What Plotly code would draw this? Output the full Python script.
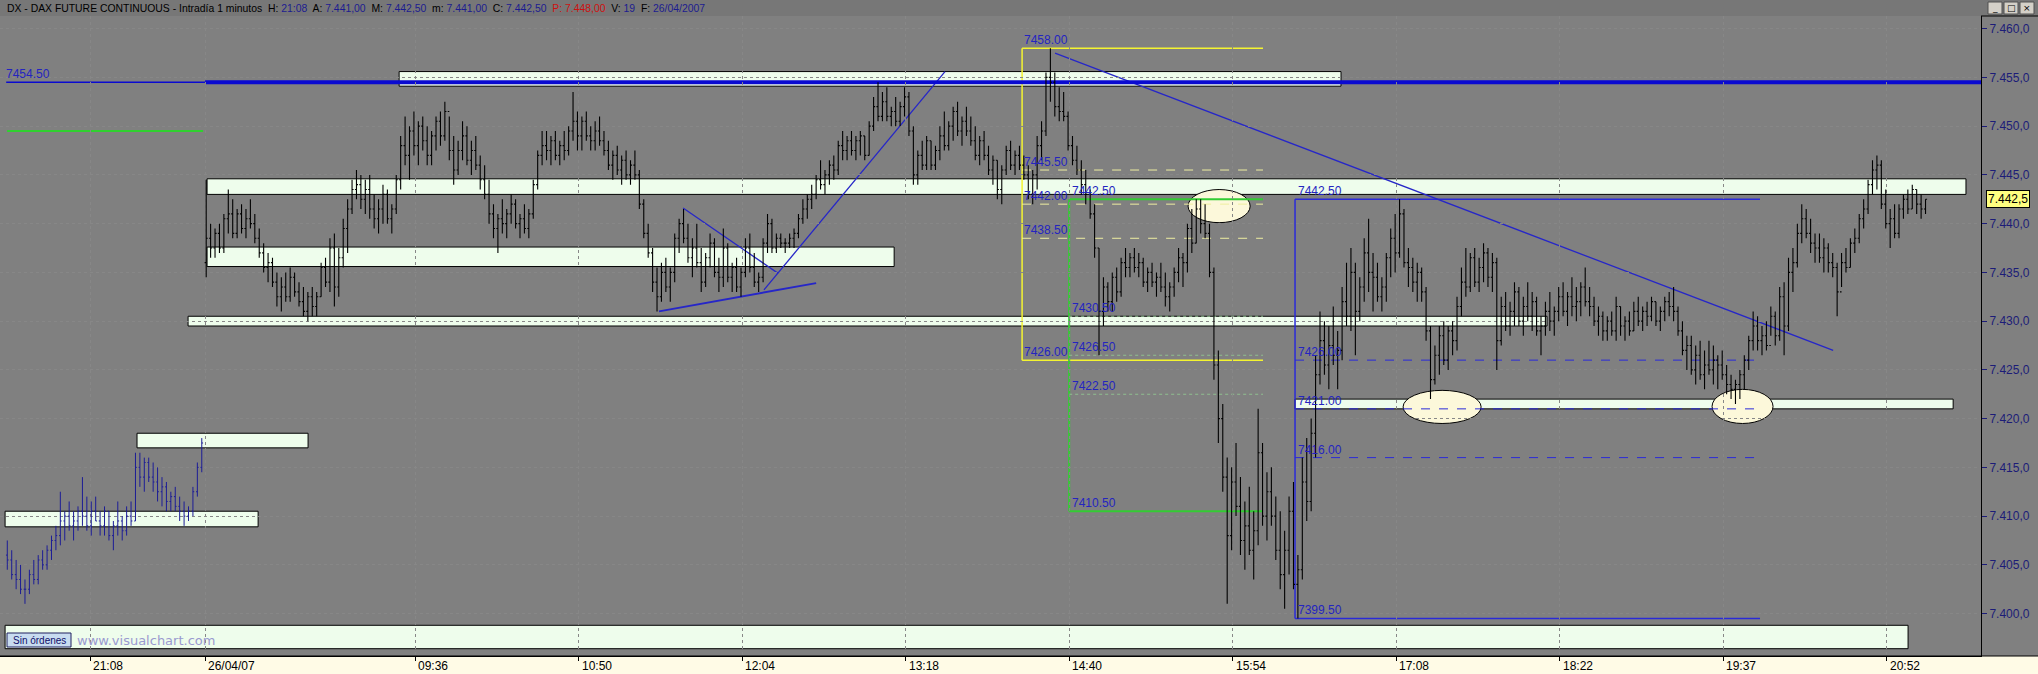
import plotly.graph_objects as go

# ---------------- DATA ----------------
# Previous session (25/04/07), 2-minute bars, last ~90 minutes
prev_high = [7407.5,7406.5,7405.5,7405.0,7403.5,7404.5,7405.5,7406.0,7406.5,7407.0,
             7408.0,7409.0,7412.5,7410.5,7411.5,7410.5,7411.0,7414.0,7412.0,7411.5,
             7412.0,7410.5,7411.0,7410.5,7409.5,7411.5,7410.0,7411.0,7411.5,7416.5,
             7416.5,7416.0,7416.0,7415.5,7415.0,7414.0,7413.5,7412.5,7413.0,7412.0,
             7411.5,7411.0,7413.0,7415.5,7418.0]
prev_low = [7404.5,7403.5,7402.5,7402.0,7401.0,7402.0,7403.0,7403.0,7404.5,7404.5,
            7405.5,7406.5,7407.0,7407.5,7408.5,7407.5,7408.5,7409.0,7408.5,7408.0,
            7409.5,7408.0,7408.0,7407.5,7406.5,7408.0,7407.5,7408.0,7409.0,7409.5,
            7413.0,7412.5,7413.5,7412.5,7411.5,7411.0,7410.5,7410.5,7410.5,7409.5,
            7409.0,7409.5,7410.0,7412.0,7414.5]
prev_close = [7405.5,7404.0,7403.5,7402.5,7402.5,7404.0,7403.5,7405.5,7405.0,7406.5,
              7407.5,7408.0,7409.5,7410.0,7409.0,7409.5,7410.5,7410.0,7409.0,7410.5,
              7409.5,7409.0,7410.5,7408.0,7409.0,7409.5,7408.5,7410.0,7409.5,7415.0,
              7414.0,7415.5,7414.0,7413.5,7412.5,7413.0,7411.5,7412.0,7411.0,7410.5,
              7410.0,7410.5,7412.5,7415.0,7417.5]
prev_first_open = 7406.0

# Session 26/04/07, 2-minute bars from 08:00
high = [7444.5,7440.0,7439.5,7440.0,7441.0,7443.5,7442.5,7441.5,7442.0,7441.5,
        7442.5,7441.0,7439.5,7438.0,7437.0,7436.5,7435.0,7434.5,7435.0,7435.5,
        7435.0,7434.0,7433.5,7433.0,7433.5,7433.0,7436.0,7436.5,7438.5,7439.0,
        7437.5,7440.5,7442.5,7444.5,7445.5,7445.0,7444.5,7445.0,7443.0,7442.5,
        7444.0,7443.5,7442.0,7445.0,7449.0,7451.0,7450.0,7451.5,7450.5,7451.0,
        7450.0,7449.5,7451.0,7451.5,7452.5,7451.0,7449.0,7448.5,7450.5,7450.0,
        7448.5,7449.0,7447.0,7446.0,7444.5,7442.0,7441.0,7442.5,7441.5,7443.0,
        7442.5,7441.0,7442.0,7441.5,7444.5,7447.5,7449.5,7449.5,7449.0,7449.5,
        7448.5,7449.5,7450.0,7453.5,7451.5,7451.0,7451.5,7450.0,7450.5,7451.0,
        7449.5,7448.5,7447.5,7448.0,7447.0,7447.5,7446.5,7447.5,7445.5,7442.5,
        7440.0,7437.5,7435.5,7436.0,7436.5,7435.5,7439.0,7440.5,7441.5,7440.0,
        7438.5,7440.0,7437.5,7437.0,7439.0,7438.5,7436.5,7439.5,7438.0,7436.0,
        7436.5,7435.5,7438.5,7439.0,7437.0,7435.0,7438.5,7441.0,7440.5,7439.0,
        7439.0,7438.5,7439.0,7439.5,7441.0,7442.5,7443.0,7444.0,7445.0,7446.5,
        7445.5,7446.5,7447.0,7448.5,7449.5,7449.0,7449.5,7449.0,7449.5,7449.0,
        7450.5,7453.0,7454.5,7453.5,7454.0,7452.0,7453.0,7452.5,7454.0,7453.5,
        7450.0,7447.5,7448.5,7449.0,7448.5,7448.0,7450.0,7451.5,7450.5,7452.0,
        7452.5,7451.0,7452.0,7451.0,7450.0,7449.0,7449.5,7448.0,7447.0,7446.5,
        7446.0,7448.0,7448.5,7447.5,7448.0,7447.0,7446.0,7445.5,7449.0,7450.5,
        7455.5,7458.0,7455.5,7454.0,7453.5,7451.5,7449.0,7448.0,7446.5,7445.5,
        7443.5,7442.0,7437.5,7434.5,7434.0,7435.0,7435.5,7436.5,7437.5,7437.0,
        7437.5,7437.0,7436.5,7435.5,7436.0,7435.0,7436.0,7435.0,7434.0,7435.5,
        7437.5,7437.0,7440.0,7441.5,7442.5,7442.5,7442.0,7440.0,7435.5,7427.0,
        7421.5,7416.0,7415.0,7417.5,7414.0,7411.5,7413.0,7410.5,7421.0,7417.5,
        7414.5,7415.0,7412.0,7410.5,7408.5,7412.0,7413.5,7406.0,7416.0,7418.0,
        7420.0,7426.5,7431.0,7430.0,7429.5,7431.5,7429.0,7433.5,7436.0,7437.5,
        7436.0,7434.5,7438.5,7440.5,7437.0,7436.0,7434.5,7437.0,7439.5,7441.0,
        7442.5,7441.5,7437.5,7436.5,7436.0,7435.5,7433.5,7429.5,7427.5,7429.5,
        7430.0,7429.5,7430.0,7432.5,7435.5,7437.5,7437.0,7437.5,7436.5,7438.0,
        7437.5,7437.0,7436.5,7432.5,7433.0,7432.0,7434.0,7433.5,7432.5,7434.0,
        7433.0,7432.5,7430.5,7432.0,7433.0,7431.5,7433.5,7434.0,7433.0,7434.5,
        7433.5,7434.0,7435.5,7433.5,7432.5,7431.5,7431.0,7430.5,7431.0,7432.5,
        7431.5,7430.5,7431.0,7432.0,7432.5,7431.5,7432.0,7432.5,7432.0,7431.5,
        7432.5,7433.0,7433.5,7431.5,7430.0,7428.5,7428.5,7427.5,7428.0,7427.0,
        7428.0,7427.5,7426.5,7427.0,7425.5,7424.5,7424.0,7425.0,7426.5,7428.5,
        7431.0,7430.5,7429.5,7430.0,7431.5,7431.0,7433.5,7434.0,7436.5,7437.5,
        7440.0,7442.0,7441.5,7440.5,7439.0,7439.0,7438.5,7438.0,7437.0,7436.0,
        7437.0,7437.5,7438.5,7439.5,7441.0,7442.5,7444.5,7446.5,7447.0,7446.5,
        7443.5,7441.5,7442.0,7442.0,7443.0,7443.5,7444.0,7443.5,7443.0,7442.5]
low = [7434.5,7436.5,7436.5,7437.0,7437.0,7439.0,7438.5,7438.5,7439.0,7438.5,
       7439.5,7438.0,7436.5,7435.0,7434.0,7433.5,7431.5,7431.0,7432.0,7432.0,
       7432.5,7431.5,7430.5,7430.0,7430.5,7430.5,7432.5,7433.5,7433.0,7431.5,
       7432.5,7435.5,7437.0,7441.0,7442.5,7441.5,7441.0,7440.5,7439.5,7439.0,
       7440.0,7440.0,7439.0,7441.0,7443.5,7446.0,7444.5,7447.0,7446.0,7447.5,
       7446.0,7446.0,7447.5,7448.0,7448.5,7446.5,7444.0,7445.0,7446.5,7446.0,
       7445.0,7445.5,7443.5,7442.5,7440.0,7438.5,7437.0,7439.0,7438.5,7440.0,
       7439.5,7438.5,7439.0,7438.5,7440.5,7443.5,7446.0,7446.5,7446.0,7446.5,
       7446.0,7446.5,7447.0,7448.5,7447.5,7447.5,7448.5,7447.5,7447.5,7448.0,
       7447.0,7445.5,7444.5,7445.0,7444.0,7444.5,7444.0,7444.5,7441.5,7438.5,
       7436.5,7433.0,7431.0,7432.0,7433.0,7432.0,7434.0,7437.0,7438.0,7436.0,
       7434.5,7435.5,7433.0,7433.5,7435.5,7434.5,7433.0,7433.5,7434.0,7433.0,
       7433.0,7432.5,7434.5,7435.0,7433.5,7433.0,7434.0,7437.0,7437.0,7437.0,
       7437.5,7437.0,7437.5,7437.5,7438.5,7440.0,7440.5,7441.5,7442.5,7443.5,
       7443.0,7444.0,7444.5,7445.0,7446.5,7446.5,7447.0,7446.5,7447.0,7446.5,
       7447.0,7449.5,7450.5,7450.5,7450.5,7450.0,7450.0,7450.0,7451.0,7449.0,
       7444.0,7444.0,7445.5,7445.5,7445.5,7445.5,7446.5,7447.5,7447.5,7448.5,
       7449.0,7448.0,7449.0,7448.0,7446.5,7446.0,7446.5,7445.0,7444.0,7442.5,
       7442.0,7445.0,7445.5,7445.0,7445.5,7444.5,7442.5,7442.0,7443.5,7446.5,
       7449.0,7452.5,7451.0,7450.5,7450.5,7447.5,7446.0,7445.0,7443.0,7442.0,
       7440.5,7436.5,7426.5,7429.5,7431.0,7431.0,7432.0,7432.5,7434.5,7434.5,
       7435.0,7434.5,7433.5,7433.0,7433.5,7432.5,7433.0,7431.5,7431.0,7432.5,
       7434.0,7433.5,7435.0,7437.0,7438.0,7439.0,7438.5,7434.5,7424.0,7417.5,
       7412.5,7401.0,7406.5,7410.0,7406.0,7404.5,7406.0,7403.5,7407.0,7409.0,
       7407.5,7409.0,7405.5,7402.5,7400.5,7404.0,7402.5,7399.5,7403.5,7409.5,
       7410.5,7416.0,7423.5,7424.5,7423.0,7425.5,7423.0,7426.0,7429.5,7429.0,
       7426.5,7430.0,7432.0,7433.0,7431.0,7432.0,7431.0,7432.0,7434.5,7435.0,
       7436.5,7435.5,7433.5,7433.0,7432.0,7432.0,7428.0,7422.0,7423.5,7424.5,
       7425.5,7425.0,7426.5,7427.0,7430.5,7432.5,7433.0,7433.5,7433.0,7434.0,
       7433.5,7433.0,7425.0,7427.5,7429.0,7428.5,7429.5,7429.5,7428.5,7430.0,
       7429.0,7428.5,7426.5,7428.5,7429.0,7428.5,7430.0,7430.5,7429.5,7430.5,
       7430.0,7430.5,7431.5,7430.5,7429.5,7428.5,7428.0,7428.0,7428.5,7428.0,
       7428.5,7428.0,7428.5,7429.0,7429.5,7429.0,7429.5,7430.0,7429.5,7429.0,
       7430.0,7430.5,7430.0,7428.5,7426.5,7425.0,7424.5,7423.5,7424.0,7423.0,
       7424.5,7423.5,7423.0,7424.0,7422.5,7422.0,7421.5,7422.0,7423.0,7425.0,
       7427.0,7427.0,7426.5,7427.0,7428.5,7427.5,7428.0,7426.5,7429.0,7433.0,
       7435.5,7438.0,7438.5,7437.0,7436.0,7436.0,7435.0,7435.0,7434.5,7430.5,
       7433.5,7435.0,7435.5,7437.0,7438.0,7439.5,7441.0,7443.0,7443.5,7441.5,
       7439.5,7437.5,7438.5,7438.5,7440.5,7441.0,7441.5,7441.0,7440.5,7441.0]
close = [7438.5,7437.5,7439.0,7437.5,7440.5,7441.0,7439.0,7441.0,7439.5,7440.5,
         7440.0,7438.5,7437.0,7435.5,7436.0,7434.0,7432.5,7433.5,7432.5,7434.5,
         7433.0,7432.0,7431.0,7432.5,7431.5,7432.5,7435.5,7434.0,7437.5,7433.5,
         7436.5,7439.5,7441.5,7443.5,7444.0,7442.5,7443.5,7441.5,7440.5,7441.5,
         7443.0,7440.5,7441.5,7444.5,7448.0,7447.0,7449.5,7448.0,7450.0,7448.5,
         7447.0,7449.0,7450.5,7449.0,7451.5,7447.5,7445.5,7447.5,7449.0,7446.5,
         7447.5,7446.0,7444.5,7443.0,7441.0,7439.5,7440.5,7440.0,7441.0,7442.0,
         7440.0,7440.5,7439.5,7441.0,7444.0,7447.0,7448.0,7447.5,7448.5,7447.0,
         7448.0,7447.5,7449.5,7450.5,7449.0,7450.5,7449.0,7448.5,7449.5,7448.5,
         7447.5,7446.0,7447.0,7445.5,7446.5,7445.0,7446.0,7445.0,7442.0,7439.0,
         7437.0,7434.0,7432.5,7435.0,7433.5,7435.0,7438.5,7440.0,7438.5,7436.5,
         7437.5,7436.0,7434.0,7436.5,7438.0,7435.0,7434.5,7437.5,7434.5,7435.5,
         7433.5,7435.0,7437.5,7435.5,7434.0,7434.5,7438.0,7440.0,7437.5,7438.5,
         7438.0,7438.0,7438.5,7439.0,7440.5,7441.5,7442.5,7443.0,7444.5,7444.0,
         7445.0,7446.0,7445.5,7448.0,7447.5,7448.5,7447.5,7448.5,7449.0,7447.0,
         7450.0,7452.0,7451.0,7452.5,7451.0,7451.5,7450.5,7452.0,7453.0,7449.5,
         7445.0,7447.0,7446.0,7448.5,7446.0,7447.5,7449.0,7448.0,7450.0,7451.5,
         7449.5,7450.5,7449.5,7448.5,7447.0,7448.5,7447.0,7445.5,7446.5,7443.5,
         7445.5,7447.5,7446.0,7447.0,7446.0,7445.0,7443.0,7445.0,7448.0,7449.5,
         7455.0,7454.5,7452.0,7451.5,7451.0,7448.0,7446.5,7445.5,7444.0,7443.0,
         7441.0,7437.5,7431.0,7433.5,7432.0,7434.5,7433.0,7436.0,7435.5,7436.5,
         7435.5,7436.0,7434.0,7435.0,7434.0,7434.5,7433.5,7432.5,7433.5,7435.0,
         7436.5,7436.0,7439.5,7438.0,7441.5,7440.0,7439.0,7435.0,7425.5,7420.0,
         7414.0,7408.0,7413.5,7411.0,7407.5,7409.0,7406.5,7408.5,7416.5,7410.0,
         7412.5,7410.0,7406.5,7404.0,7406.5,7410.5,7403.0,7404.5,7413.5,7411.5,
         7418.5,7424.5,7428.0,7425.5,7427.5,7426.5,7427.0,7432.0,7430.5,7435.0,
         7431.0,7433.5,7437.0,7435.0,7434.5,7432.5,7433.5,7436.5,7438.5,7437.0,
         7441.0,7436.0,7435.5,7434.0,7435.0,7433.0,7429.0,7424.0,7426.5,7428.5,
         7426.0,7429.0,7428.0,7431.5,7434.0,7433.5,7436.5,7434.0,7435.5,7437.0,
         7434.5,7436.0,7428.0,7431.5,7429.5,7431.0,7433.0,7430.0,7431.5,7430.5,
         7432.0,7429.0,7429.5,7431.0,7430.0,7431.0,7432.5,7431.0,7432.5,7431.5,
         7432.0,7433.5,7432.0,7431.5,7430.0,7430.5,7429.0,7430.0,7429.0,7431.5,
         7429.5,7430.0,7429.0,7431.0,7430.0,7431.0,7430.5,7432.0,7430.0,7431.0,
         7432.0,7431.5,7431.0,7429.0,7427.0,7427.5,7425.0,7426.5,7424.5,7425.5,
         7425.0,7426.0,7425.5,7424.5,7423.5,7423.0,7423.5,7424.5,7426.0,7428.0,
         7429.5,7428.0,7428.5,7427.5,7430.5,7428.5,7432.5,7429.5,7435.0,7436.0,
         7439.0,7440.5,7439.0,7438.0,7437.5,7436.5,7437.5,7436.0,7435.5,7433.0,
         7436.0,7435.5,7438.0,7438.5,7440.5,7441.5,7444.0,7445.5,7446.0,7442.0,
         7440.0,7440.5,7439.0,7441.5,7442.5,7441.5,7443.5,7442.0,7441.5,7442.5]
first_open = 7436.0

# Axis tick labels
time_tick_pos = [-52, 0, 95, 169, 243, 317, 391, 465, 539, 613, 687, 761]   # minute index (0 = 08:00 of 26/04/07)
time_tick_txt = ["21:08", "26/04/07", "09:36", "10:50", "12:04", "13:18",
                 "14:40", "15:54", "17:08", "18:22", "19:37", "20:52"]
price_ticks = [7400, 7405, 7410, 7415, 7420, 7425, 7430, 7435, 7440, 7445, 7450, 7455, 7460]
last_price = 7442.5

# Drawn support/resistance bands: (x0, x1, y_low, y_high)
bands = [(-90.5, 770.6, 7396.4, 7398.8),
         (-90.5, 24.0, 7408.9, 7410.5),
         (-30.8, 46.6, 7417.0, 7418.5),
         (0.9, 796.8, 7443.0, 7444.6),
         (0.9, 311.8, 7435.6, 7437.6),
         (-7.7, 607.2, 7429.5, 7430.5),
         (493.2, 791.0, 7421.0, 7422.0),
         (87.8, 514.0, 7454.1, 7455.6)]
ellipses = [(444.8, 472.9, 7440.1, 7443.5),
            (542.1, 577.4, 7419.5, 7422.9),
            (681.9, 709.5, 7419.5, 7423.0)]
trendlines = [(384.6, 7457.5, 736.7, 7427.0, 1.3),
              (252.9, 7433.2, 334.8, 7455.6, 1.3),
              (216.3, 7441.6, 259.3, 7434.9, 1.3),
              (205.4, 7431.0, 276.5, 7433.9, 2.0)]
# Retracement tools
yellow_tool = dict(x0=369.7, x1=478.7, top=7458.0, bottom=7426.0, levels=[7445.5, 7442.0, 7438.5])
green_tool = dict(x0=391.0, x1=478.7, top=7442.5, bottom=7410.5, levels=[7430.5, 7426.5, 7422.5])
blue_tool = dict(x0=493.2, x1=703.6, top=7442.5, bottom=7399.5, levels=[7426.0, 7421.0, 7416.0])
level_7454 = 7454.5
green_prev_level = 7449.5

labels = [(-90.5, 7454.5, "7454.50"),
          (370.1, 7458.0, "7458.00"), (370.1, 7445.5, "7445.50"), (370.1, 7442.0, "7442.00"),
          (370.1, 7438.5, "7438.50"), (370.1, 7426.0, "7426.00"),
          (391.9, 7442.5, "7442.50"), (391.9, 7430.5, "7430.50"), (391.9, 7426.5, "7426.50"),
          (391.9, 7422.5, "7422.50"), (391.9, 7410.5, "7410.50"),
          (493.9, 7442.5, "7442.50"), (493.9, 7426.0, "7426.00"), (493.9, 7421.0, "7421.00"),
          (493.9, 7416.0, "7416.00"), (493.9, 7399.5, "7399.50")]

header = [("DX - DAX FUTURE CONTINUOUS - Intradía 1 minutos", None),
          ("H:", "21:08"), ("A:", "7.441,00"), ("M:", "7.442,50"), ("m:", "7.441,00"),
          ("C:", "7.442,50"), ("P:", "7.448,00"), ("V:", "19"), ("F:", "26/04/2007")]

# ---------------- FIGURE ----------------
X_RANGE = [-92.8, 803.6]
Y_RANGE = [7395.65, 7461.3]
PX_W, PX_H = 1981.0, 640.0
NARROW = "Liberation Sans Narrow, Arial Narrow, Liberation Sans, Arial, sans-serif"
GRID = "#878787"


def pxx(px):
    return px / PX_W


def pxy(py):
    return (656.0 - py) / PX_H


n = min(len(high), len(low), len(close))
np_ = min(len(prev_high), len(prev_low), len(prev_close))
x_main = [2 * k + 0.5 for k in range(n)]
x_prev = [-90 + 2 * k + 0.5 for k in range(np_)]
open_main = [first_open] + close[:n - 1]          # each bar opens at the previous close
open_prev = [prev_first_open] + prev_close[:np_ - 1]

fig = go.Figure()
fig.add_trace(go.Ohlc(x=x_prev, open=open_prev, high=prev_high[:np_], low=prev_low[:np_],
                      close=prev_close[:np_], tickwidth=0.3,
                      increasing=dict(line=dict(color="#1c1c96", width=1)),
                      decreasing=dict(line=dict(color="#1c1c96", width=1)),
                      hoverinfo="skip", showlegend=False))
fig.add_trace(go.Ohlc(x=x_main, open=open_main, high=high[:n], low=low[:n], close=close[:n],
                      tickwidth=0.35,
                      increasing=dict(line=dict(color="#000000", width=1.1)),
                      decreasing=dict(line=dict(color="#000000", width=1.1)),
                      hoverinfo="skip", showlegend=False))

shapes = []
# paper decorations
shapes.append(dict(type="rect", xref="paper", yref="paper", x0=0, x1=pxx(2038), y0=pxy(16), y1=pxy(0),
                   fillcolor="#777777", line=dict(width=0), layer="below"))
shapes.append(dict(type="rect", xref="paper", yref="paper", x0=0, x1=pxx(2038), y0=pxy(674), y1=pxy(656),
                   fillcolor="#fffbe6", line=dict(width=0), layer="below"))
shapes.append(dict(type="line", xref="paper", yref="paper", x0=0, x1=pxx(2038), y0=0, y1=0,
                   line=dict(color="black", width=1)))
shapes.append(dict(type="line", xref="paper", yref="paper", x0=1, x1=pxx(2038), y0=1, y1=1,
                   line=dict(color="black", width=1)))
for bx in (1988, 2004, 2020):
    shapes.append(dict(type="rect", xref="paper", yref="paper", x0=pxx(bx), x1=pxx(bx + 14),
                       y0=pxy(14), y1=pxy(2), fillcolor="#d4d0c8", line=dict(color="#505050", width=1)))
shapes.append(dict(type="rect", xref="paper", yref="paper", x0=pxx(7), x1=pxx(71), y0=pxy(647), y1=pxy(633),
                   fillcolor="#c8dcf0", line=dict(color="#202060", width=1)))

# bands
for (x0, x1, y0, y1) in bands:
    shapes.append(dict(type="rect", xref="x", yref="y", x0=x0, x1=x1, y0=y0, y1=y1,
                       fillcolor="#eefdec", line=dict(color="black", width=1), layer="below"))
# ellipses
for (x0, x1, y0, y1) in ellipses:
    shapes.append(dict(type="circle", xref="x", yref="y", x0=x0, x1=x1, y0=y0, y1=y1,
                       fillcolor="#fcf8da", line=dict(color="black", width=1), layer="below"))


def hline(x0, x1, y, color, width=1, dash="solid"):
    shapes.append(dict(type="line", xref="x", yref="y", x0=x0, x1=x1, y0=y, y1=y,
                       line=dict(color=color, width=width, dash=dash), layer="below"))


def vline(x, y0, y1, color, width=1):
    shapes.append(dict(type="line", xref="x", yref="y", x0=x, x1=x, y0=y0, y1=y1,
                       line=dict(color=color, width=width), layer="below"))


# yellow tool
yt = yellow_tool
vline(yt["x0"], yt["bottom"], yt["top"], "#f4f430", 1.5)
hline(yt["x0"], yt["x1"], yt["top"], "#f4f430", 1.5)
hline(yt["x0"], yt["x1"], yt["bottom"], "#f4f430", 1.5)
for lv in yt["levels"]:
    hline(yt["x0"], yt["x1"], lv, "#eeeea0", 1, "dash")
# green tool
gt = green_tool
vline(gt["x0"], gt["bottom"], gt["top"], "#33cc33", 2)
hline(gt["x0"], gt["x1"], gt["top"], "#33cc33", 2)
hline(gt["x0"], gt["x1"], gt["bottom"], "#33cc33", 2)
for lv in gt["levels"]:
    hline(gt["x0"], gt["x1"], lv, "#8fbf8f", 1, "dot")
# blue tool
bt = blue_tool
vline(bt["x0"], bt["bottom"], bt["top"], "#2a2ad8", 1.5)
hline(bt["x0"], bt["x1"], bt["top"], "#2a2ad8", 1.5)
hline(bt["x0"], bt["x1"], bt["bottom"], "#2a2ad8", 1.5)
for lv in bt["levels"]:
    hline(bt["x0"], bt["x1"], lv, "#2a2ad8", 1, "dash")
# trend lines
for (x0, y0, x1, y1, w) in trendlines:
    shapes.append(dict(type="line", xref="x", yref="y", x0=x0, x1=x1, y0=y0, y1=y1,
                       line=dict(color="#2626c8", width=w), layer="below"))
# 7454.50 level and green level of previous day
hline(-90.0, 0.0, level_7454, "#0a0ad0", 1.5)
hline(0.0, 806.0, level_7454, "#0a0ad0", 4)
hline(-89.6, -0.9, green_prev_level, "#30d030", 2)

annotations = []
lab_font = dict(family=NARROW, size=12, color="#2424c0")
for (x, y, t) in labels:
    annotations.append(dict(x=x, y=y, xref="x", yref="y", text=t, showarrow=False,
                            xanchor="left", yanchor="bottom", font=lab_font, borderpad=0))
for (x, t) in zip(time_tick_pos, time_tick_txt):
    annotations.append(dict(x=x, y=pxy(665.5), xref="x", yref="paper", text=t, showarrow=False,
                            xanchor="left", yanchor="middle", xshift=1,
                            font=dict(family=NARROW, size=12, color="#000000")))
# header
parts = []
for (k, v) in header:
    if v is None:
        parts.append(k)
    else:
        col = "#d01010" if k == "P:" else "#1c1c90"
        kcol = "#d01010" if k == "P:" else "#000000"
        parts.append("<span style='color:%s'>%s</span> <span style='color:%s'>%s</span>" % (kcol, k, col, v))
annotations.append(dict(x=pxx(5), y=pxy(8), xref="paper", yref="paper", text="&nbsp; ".join(parts),
                        showarrow=False, xanchor="left", yanchor="middle",
                        font=dict(family=NARROW, size=10.4, color="#000000")))
for (bx, sym) in zip((1988, 2004, 2020), ("_", "□", "×")):
    annotations.append(dict(x=pxx(bx + 7), y=pxy(8), xref="paper", yref="paper", text=sym,
                            showarrow=False, xanchor="center", yanchor="middle",
                            font=dict(family="DejaVu Sans", size=9, color="#000000")))
annotations.append(dict(x=pxx(39), y=pxy(640), xref="paper", yref="paper", text="Sin órdenes",
                        showarrow=False, xanchor="center", yanchor="middle",
                        font=dict(family=NARROW, size=10, color="#10106a")))
annotations.append(dict(x=pxx(75), y=pxy(640), xref="paper", yref="paper", text="www.visualchart.com",
                        showarrow=False, xanchor="left", yanchor="middle",
                        font=dict(family="DejaVu Sans, Verdana", size=13, color="#9a9ad0")))
annotations.append(dict(x=pxx(1986), y=last_price, xref="paper", yref="y",
                        text="7.442,5", showarrow=False, xanchor="left", yanchor="middle",
                        bgcolor="#ffff80", bordercolor="#000000", borderwidth=1, borderpad=1,
                        font=dict(family=NARROW, size=12, color="#000000")))

fig.update_layout(
    width=2038, height=674, autosize=False,
    margin=dict(l=0, r=57, t=16, b=18, pad=0),
    paper_bgcolor="#808080", plot_bgcolor="#808080",
    separators=",.",
    showlegend=False,
    shapes=shapes, annotations=annotations,
    xaxis=dict(range=X_RANGE, tickvals=time_tick_pos, showticklabels=False,
               ticks="outside", ticklen=4, tickcolor="#000000",
               showgrid=True, gridcolor=GRID, griddash="dot", gridwidth=1,
               showline=True, linecolor="#000000", linewidth=1, zeroline=False,
               rangeslider=dict(visible=False), fixedrange=True),
    yaxis=dict(range=Y_RANGE, side="right", tickvals=price_ticks, tickformat=",.1f",
               ticks="outside", ticklen=5, tickcolor="#1c1c78",
               tickfont=dict(family=NARROW, size=12, color="#1c1c78"),
               showgrid=True, gridcolor=GRID, griddash="dot", gridwidth=1,
               showline=True, linecolor="#000000", linewidth=1, zeroline=False, fixedrange=True),
)

fig.write_html("out.html", config={"displayModeBar": False},
               post_script="document.body.style.margin='0';document.body.style.overflow='hidden';")
